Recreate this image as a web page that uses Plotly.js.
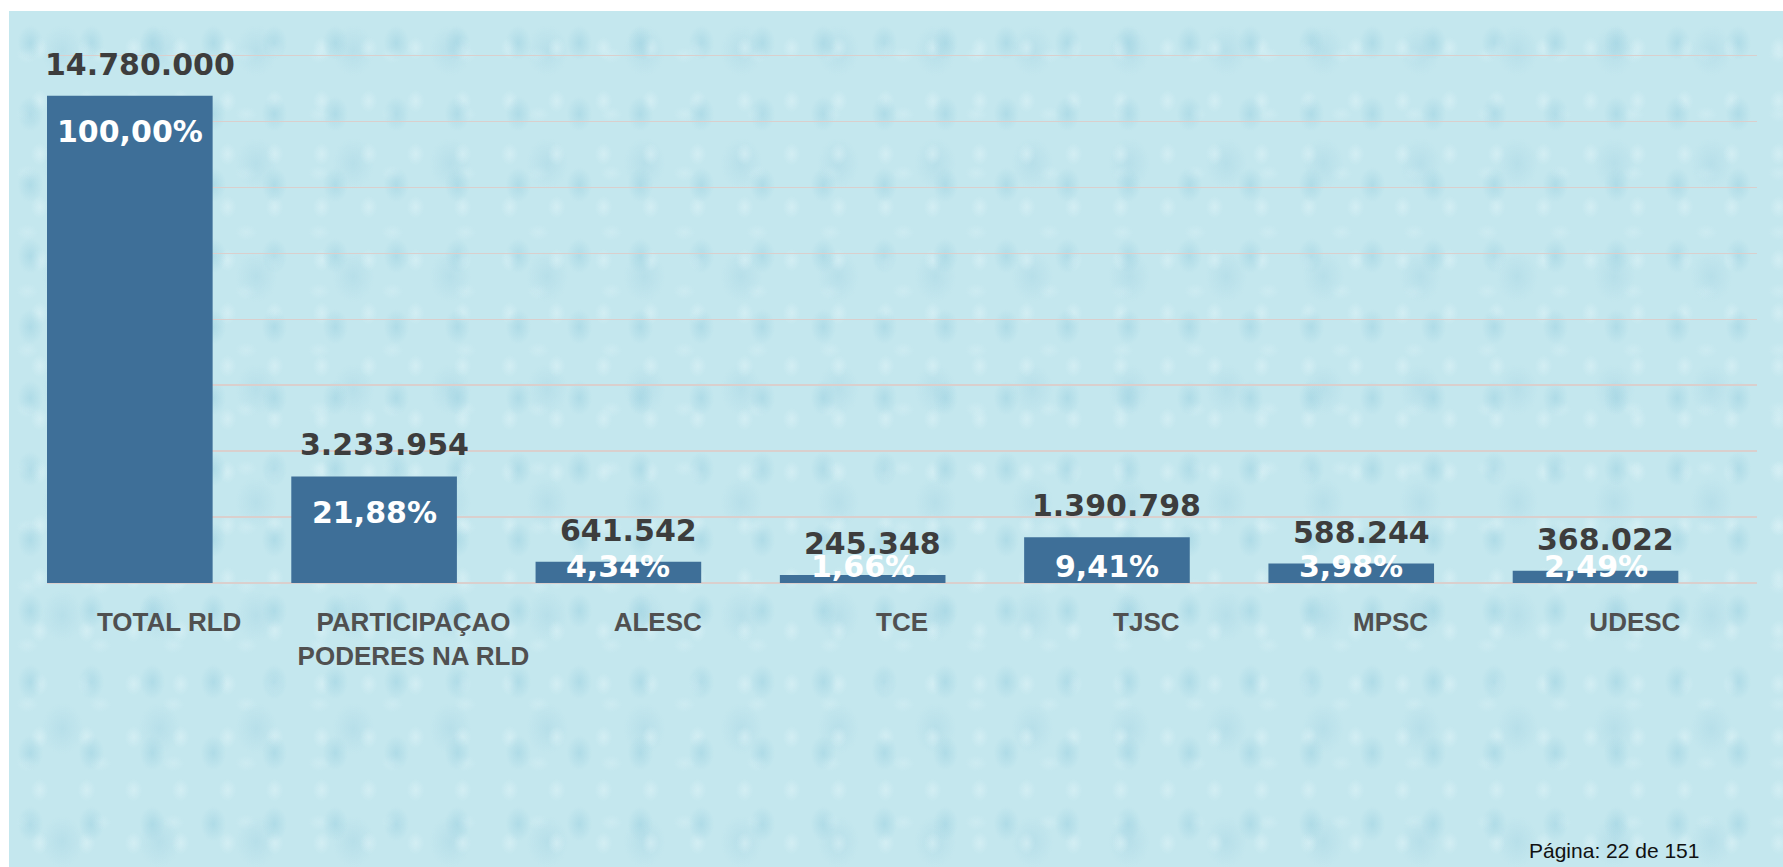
<!DOCTYPE html>
<html>
<head>
<meta charset="utf-8">
<script src="https://cdn.plot.ly/plotly-3.0.1.min.js"></script>
<style>
  html, body { margin: 0; padding: 0; background: #ffffff; overflow: hidden; }
  #bg {
    position: absolute; left: 9px; top: 11px; right: 0; bottom: 0;
    background-color: #c4e7ee;
    background-image:
      radial-gradient(ellipse 16px 22px at 35% 45%, rgba(158,210,225,0.55), rgba(158,210,225,0) 80%),
      radial-gradient(ellipse 11px 14px at 65% 70%, rgba(222,243,247,0.55), rgba(222,243,247,0) 80%),
      radial-gradient(ellipse 26px 32px at 55% 35%, rgba(168,214,228,0.45), rgba(168,214,228,0) 80%),
      radial-gradient(ellipse 14px 10px at 25% 75%, rgba(215,240,245,0.45), rgba(215,240,245,0) 80%);
    background-size: 61px 71px, 47px 53px, 97px 113px, 73px 59px;
  }
  #chart { position: absolute; left: 0; top: 0; width: 1783px; height: 867px; }
</style>
</head>
<body>
<div id="bg"></div>
<div id="chart"></div>
<script>
// ---- data ----
const categories = ["TOTAL RLD", "PARTICIPAÇAO<br>PODERES NA RLD", "ALESC", "TCE", "TJSC", "MPSC", "UDESC"];
const values = [14780000, 3233954, 641542, 245348, 1390798, 588244, 368022];
const valueLabels = ["14.780.000", "3.233.954", "641.542", "245.348", "1.390.798", "588.244", "368.022"];
const percentLabels = ["100,00%", "21,88%", "4,34%", "1,66%", "9,41%", "3,98%", "2,49%"];
const pageLabel = "Página: 22 de 151";

// ---- layout constants ----
const W = 1783, H = 867;
const mL = 47, mR = 26, mT = 54, mB = 284;
const yMax = 16000000;
const plotH = H - mT - mB;
const unit = yMax / plotH;       // data units per pixel
const barWidth = 0.678;
const barOffset = -0.5;

const xIdx = categories.map((c, i) => i);
const barCenters = xIdx.map(i => i + barOffset + barWidth / 2);

const annotations = [];
values.forEach((v, i) => {
  annotations.push({
    x: barCenters[i], y: v, xref: 'x', yref: 'y',
    text: valueLabels[i], showarrow: false,
    xanchor: 'center', yanchor: 'bottom', xshift: 10, yshift: 12,
    font: {family: 'DejaVu Sans, Arial, sans-serif', size: 30, color: '#3d3d3d', weight: 'bold'}
  });
  const yc = Math.max(v - 36 * unit, 17 * unit);
  annotations.push({
    x: barCenters[i], y: yc, xref: 'x', yref: 'y',
    text: percentLabels[i], showarrow: false,
    xanchor: 'center', yanchor: 'middle',
    font: {family: 'DejaVu Sans, Arial, sans-serif', size: 30, color: '#ffffff', weight: 'bold'}
  });
});
annotations.push({
  x: (1701 - mL) / (W - mL - mR), y: -(850 - (H - mB)) / plotH,
  xref: 'paper', yref: 'paper', text: pageLabel, showarrow: false,
  xanchor: 'right', yanchor: 'middle',
  font: {family: 'Liberation Sans Narrow, Liberation Sans, Arial, sans-serif', size: 21, color: '#111111'}
});

const trace = {
  type: 'bar',
  x: xIdx,
  y: values,
  width: barWidth,
  offset: barOffset,
  marker: {color: '#3e6f98', line: {width: 0}},
  hoverinfo: 'skip'
};

const layout = {
  width: W, height: H,
  margin: {l: mL, r: mR, t: mT, b: mB, pad: 0},
  paper_bgcolor: 'rgba(0,0,0,0)',
  plot_bgcolor: 'rgba(0,0,0,0)',
  showlegend: false,
  xaxis: {
    type: 'linear',
    range: [-0.5, categories.length - 0.5],
    tickmode: 'array',
    tickvals: xIdx,
    ticktext: categories,
    showgrid: false, zeroline: false, showline: false,
    ticks: 'outside', ticklen: 16, tickcolor: 'rgba(0,0,0,0)',
    tickfont: {family: 'Liberation Sans, Arial, sans-serif', size: 26, color: '#505050', weight: 'bold'},
    fixedrange: true
  },
  yaxis: {
    range: [0, yMax + 1.5 * unit],
    tickmode: 'linear', tick0: 0, dtick: 2000000,
    showgrid: true, gridcolor: '#dacfcd', gridwidth: 1.5,
    zeroline: true, zerolinecolor: '#dacfcd', zerolinewidth: 1.5,
    showticklabels: false, ticks: '', showline: false,
    fixedrange: true
  },
  annotations: annotations
};

Plotly.newPlot('chart', [trace], layout, {displayModeBar: false, staticPlot: true});
</script>
</body>
</html>
